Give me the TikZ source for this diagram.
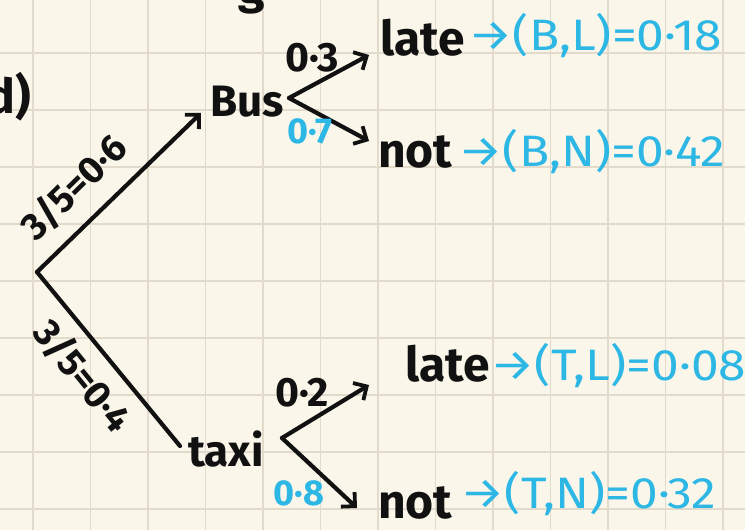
\documentclass[tikz,border=0pt]{standalone}
\usepackage{fontspec}
\setmainfont{Fira Sans}
\newfontfamily\widefont[FakeStretch=1.13]{Fira Sans}
\usetikzlibrary{arrows.meta}
\definecolor{paper}{HTML}{FAF6EA}
\definecolor{gridc}{HTML}{E2DACA}
\definecolor{ink}{HTML}{111111}
\definecolor{sky}{HTML}{2DB7E5}
\tikzset{
  branch/.style={draw=ink, line width=4.2pt, line cap=round, line join=round},
  barb/.style={-{Straight Barb[length=10pt,width=20pt,line width=3.8pt]}},
  word/.style={text=ink, font=\fontsize{48}{50}\selectfont\bfseries, inner sep=0pt, anchor=west},
  midword/.style={text=ink, font=\fontsize{44}{46}\selectfont\bfseries, inner sep=0pt, anchor=west},
  prob/.style={text=ink, font=\fontsize{41}{43}\selectfont\bfseries, inner sep=0pt},
  slant/.style={text=ink, font=\fontsize{38}{40}\selectfont\bfseries, inner sep=0pt},
  bprob/.style={text=sky, font=\fontsize{36}{38}\selectfont\bfseries, inner sep=0pt},
  result/.style={text=sky, font=\fontsize{44}{46}\selectfont\widefont, inner sep=0pt, anchor=west},
}
\begin{document}
\begin{tikzpicture}[x=1pt,y=-1pt]
\fill[paper] (0,0) rectangle (745,530);
\useasboundingbox (0,0) rectangle (745,530);
% grid
\foreach \gx in {33,90.5,148,205.5,263,320.5,378,435.5,493,550.5,608,665.5,723}
  \draw[gridc, line width=1.5pt] (\gx,0) -- (\gx,530);
\foreach \gy in {-4,53,110,167,224,281,338,395,452,509}
  \draw[gridc, line width=1.5pt] (0,\gy) -- (745,\gy);
% fragments at the edges
\node[word, anchor=east] (frag) at (31,97) {d)};
\node[word, anchor=south] (gtop) at (252,14) {g};
% root
\coordinate (root) at (37,272);
% level 1
\node[midword] (bus) at (210,102) {Bus};
\node[midword] (taxi) at (188,449) {taxi};
\draw[branch, barb] (root) -- (201,113);
\draw[branch] (root) -- (180,446);
\node[slant, rotate=44.5] (p06) at (74,187) {3/5=0·6};
\node[slant, rotate=-51] (p04) at (83,376) {3/5=0·4};
% bus branches
\coordinate (bv) at (289,98);
\node[word] (bl) at (380,38) {late};
\node[word] (bn) at (378,152) {not};
\draw[branch, barb] (bv) -- (369,55);
\draw[branch, barb] (bv) -- (369,141);
\node[prob] (p03) at (312,58) {0·3};
\node[bprob] (p07) at (310,131) {0·7};
% taxi branches
\coordinate (tv) at (282,438);
\node[word] (tl) at (405,364) {late};
\node[word] (tn) at (378,503) {not};
\draw[branch, barb] (tv) -- (369,385);
\draw[branch, barb] (tv) -- (357,508);
\node[prob] (p02) at (302,393) {0·2};
\node[bprob] (p08) at (299,493) {0·8};
% results
\node[result] (rbl) at (468,36) {→(B,L)=0·18};
\node[result] (rbn) at (458,152) {→(B,N)=0·42};
\node[result] (rtl) at (490,366) {→(T,L)=0·08};
\node[result] (rtn) at (460,494) {→(T,N)=0·32};
\end{tikzpicture}
\end{document}
